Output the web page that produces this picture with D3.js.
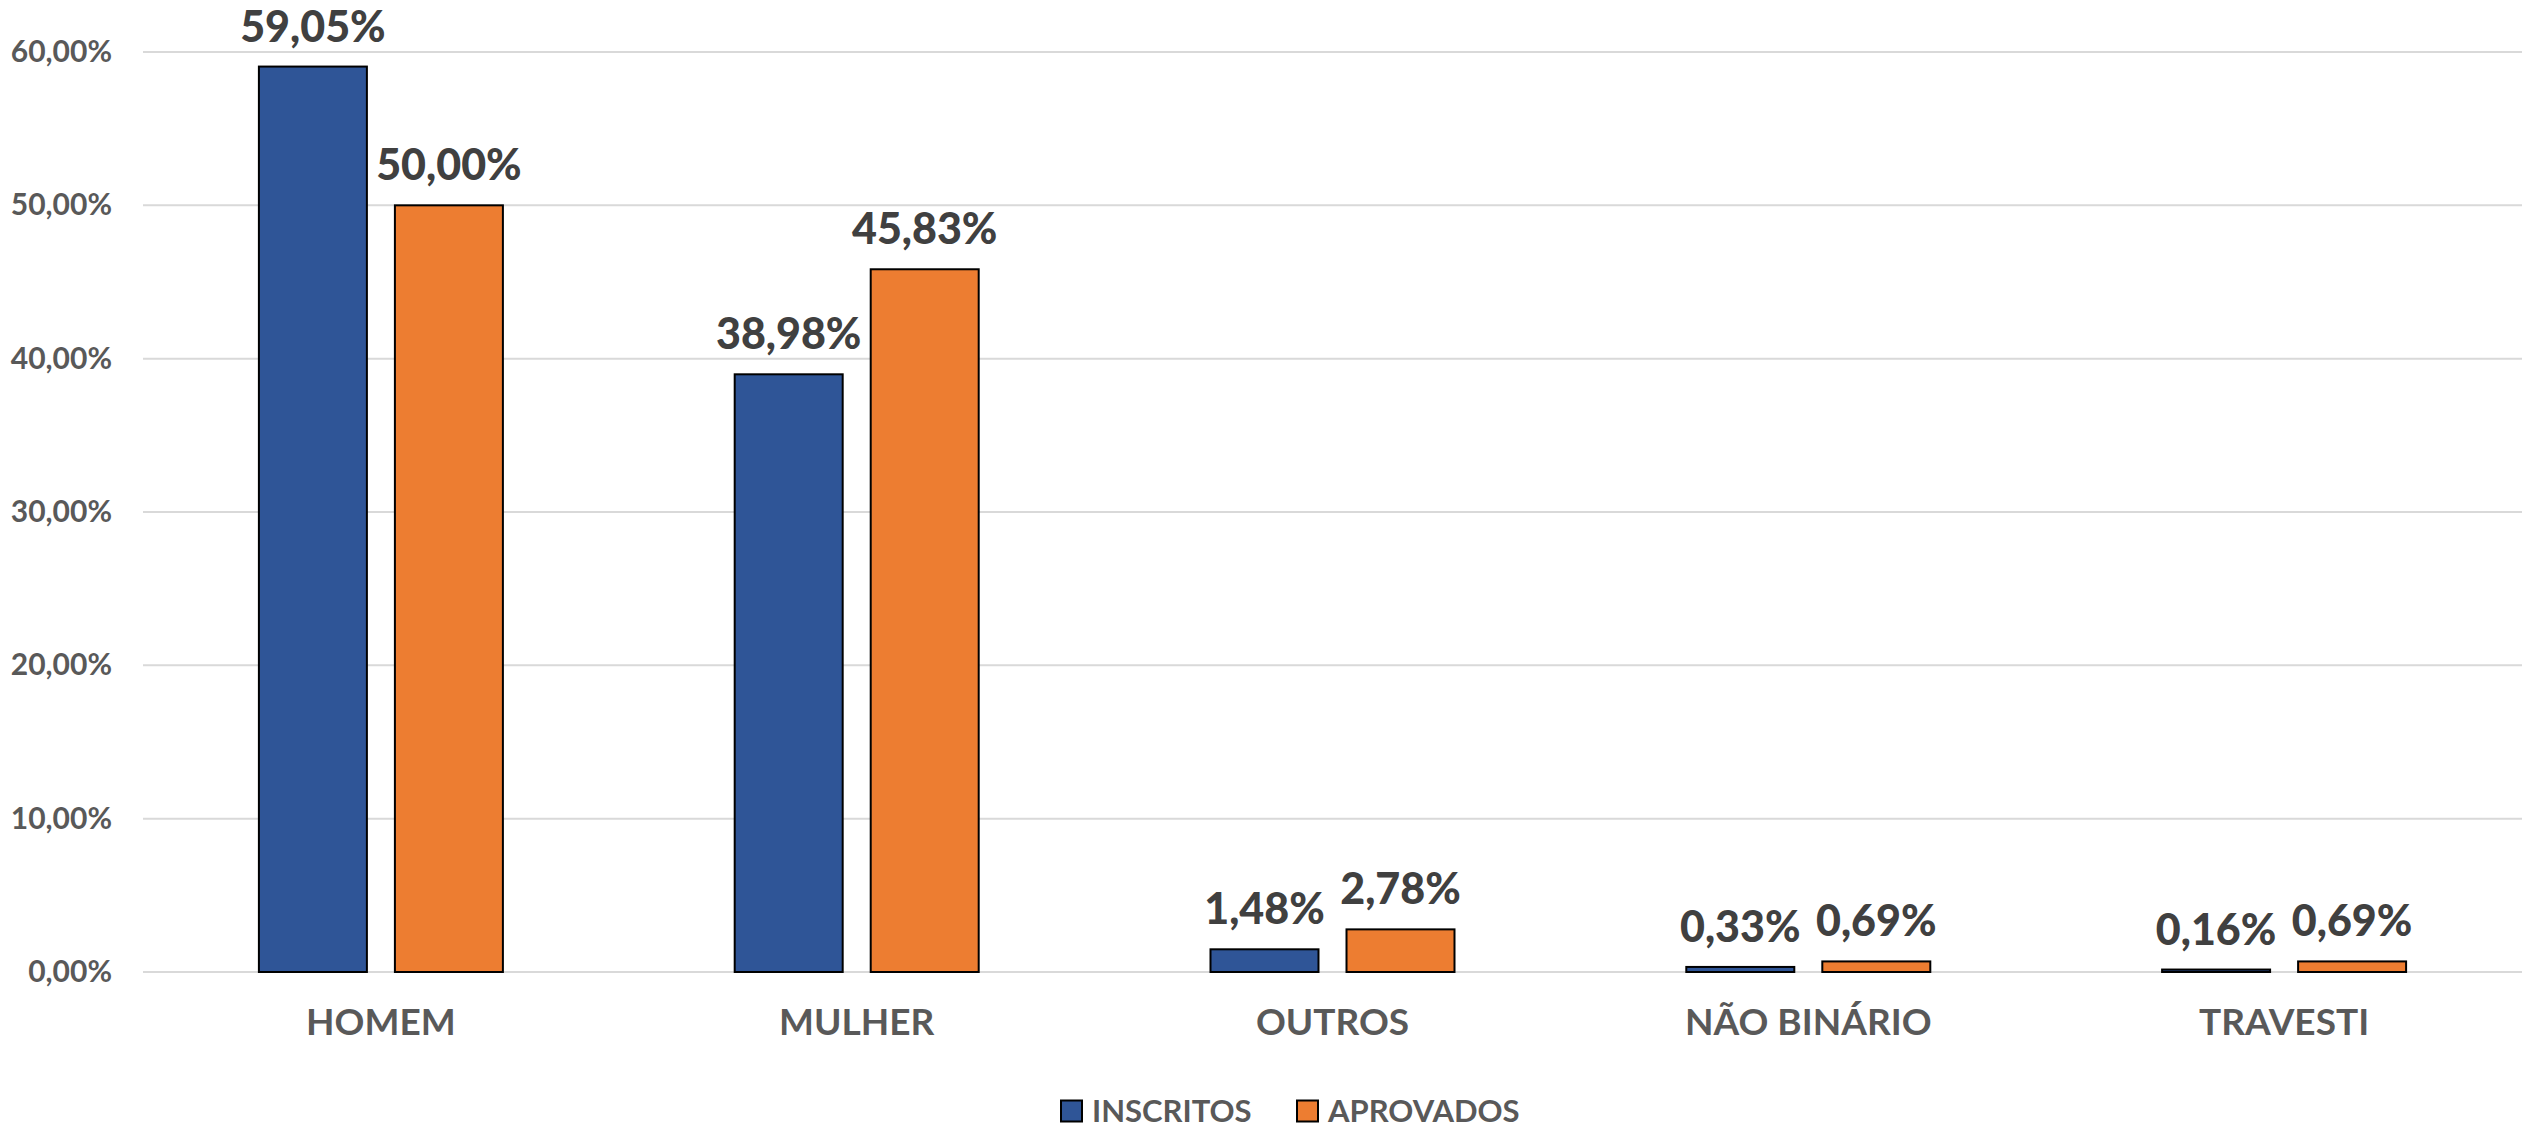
<!DOCTYPE html>
<html>
<head>
<meta charset="utf-8">
<script src="https://cdn.jsdelivr.net/npm/d3@7"></script>
<style>
  body { margin: 0; background: #fff; }
  svg { display: block; font-family: Lato, "Open Sans", sans-serif; font-weight: bold; }
</style>
</head>
<body>
<svg width="2526" height="1130"></svg>
<script>
const categories = ["HOMEM", "MULHER", "OUTROS", "NÃO BINÁRIO", "TRAVESTI"];
const seriesNames = ["INSCRITOS", "APROVADOS"];
const inscritos = [59.05, 38.98, 1.48, 0.33, 0.16];
const aprovados = [50.0, 45.83, 2.78, 0.69, 0.69];
const yTicks = [0, 10, 20, 30, 40, 50, 60];
const colors = ["#2F5597", "#ED7D31"];

const svg = d3.select("svg");
const plotLeft = 143, plotRight = 2522, plotTop = 52, plotBottom = 972;

const x = d3.scaleBand().domain(categories).range([plotLeft, plotRight]);
const groupW = 244;
const xs = d3.scaleBand()
  .domain(seriesNames)
  .range([(x.bandwidth() - groupW) / 2, (x.bandwidth() + groupW) / 2])
  .paddingInner(0.206);
const y = d3.scaleLinear().domain([0, 60]).range([plotBottom, plotTop]);

const fmt = (v) => d3.format(".2f")(v).replace(".", ",") + "%";

// grid
svg.append("g")
  .selectAll("line")
  .data(yTicks)
  .join("line")
  .attr("x1", plotLeft)
  .attr("x2", plotRight)
  .attr("y1", (d) => y(d))
  .attr("y2", (d) => y(d))
  .attr("stroke", "#D9D9D9")
  .attr("stroke-width", 2);

// y axis labels
const yAxis = svg.append("g")
  .attr("transform", `translate(${plotLeft},0)`)
  .call(d3.axisLeft(y).tickValues(yTicks).tickFormat(fmt).tickSize(0).tickPadding(31));
yAxis.select(".domain").remove();
yAxis.selectAll("text")
  .attr("fill", "#595959")
  .style("font-size", "30px")
  .style("font-family", "Lato, sans-serif")
  .style("font-weight", "bold");

// x axis labels
const xAxis = svg.append("g")
  .attr("transform", `translate(0,${plotBottom})`)
  .call(d3.axisBottom(x).tickSize(0).tickPadding(37));
xAxis.select(".domain").remove();
xAxis.selectAll("text")
  .attr("fill", "#595959")
  .style("font-size", "37px")
  .style("font-family", "Lato, sans-serif")
  .style("font-weight", "bold");

const rows = categories.map((c, i) => ({
  cat: c,
  vals: [
    { s: seriesNames[0], v: inscritos[i], c: colors[0] },
    { s: seriesNames[1], v: aprovados[i], c: colors[1] },
  ],
}));

const groups = svg.append("g")
  .selectAll("g")
  .data(rows)
  .join("g")
  .attr("transform", (d) => `translate(${x(d.cat)},0)`);

groups.selectAll("rect")
  .data((d) => d.vals)
  .join("rect")
  .attr("x", (d) => xs(d.s))
  .attr("width", xs.bandwidth())
  .attr("y", (d) => y(d.v))
  .attr("height", (d) => plotBottom - y(d.v))
  .attr("fill", (d) => d.c)
  .attr("stroke", "#000")
  .attr("stroke-width", 2);

groups.selectAll("text")
  .data((d) => d.vals)
  .join("text")
  .attr("x", (d) => xs(d.s) + xs.bandwidth() / 2)
  .attr("y", (d) => y(d.v) - 25)
  .attr("text-anchor", "middle")
  .attr("fill", "#404040")
  .style("font-size", "43px")
  .style("font-weight", 900)
  .text((d) => fmt(d.v));

// legend
const legend = svg.append("g").attr("transform", "translate(0,1111)");
const legendX = [1061, 1297];
seriesNames.forEach((s, i) => {
  legend.append("rect")
    .attr("x", legendX[i])
    .attr("y", -10.5)
    .attr("width", 21)
    .attr("height", 21)
    .attr("fill", colors[i])
    .attr("stroke", "#000")
    .attr("stroke-width", 2);
  legend.append("text")
    .attr("x", legendX[i] + 31)
    .attr("y", 0)
    .attr("dy", "0.36em")
    .attr("fill", "#595959")
    .style("font-size", "31px")
    .text(s);
});
</script>
</body>
</html>
